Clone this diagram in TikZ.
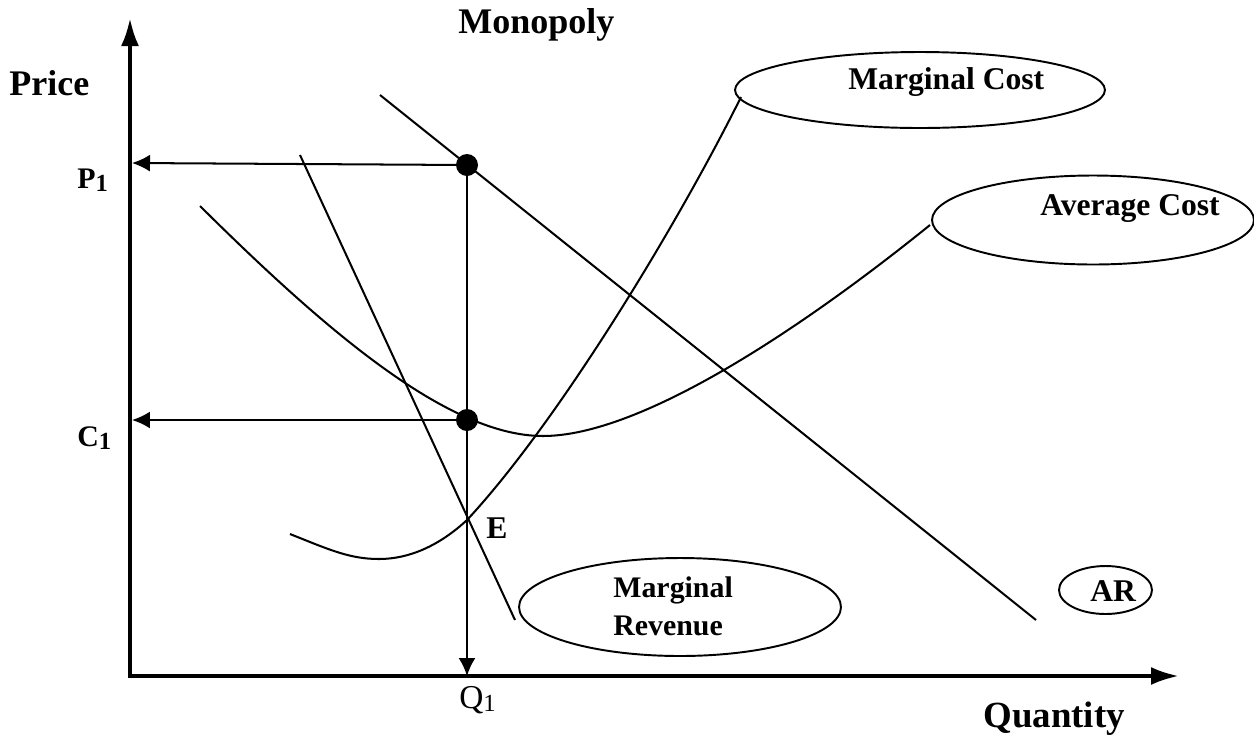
\documentclass[tikz,border=0pt]{standalone}
\usepackage{fontspec}
\setmainfont{Liberation Serif}
\usetikzlibrary{arrows.meta,shapes.geometric}
\newcommand{\mysub}[2]{#1\raisebox{-0.25ex}{\fontsize{14}{14}\selectfont #2}}
\begin{document}
\begin{tikzpicture}[x=0.02cm,y=-0.02cm,
  thin line/.style={line width=1.15pt},
  axis line/.style={line width=2.3pt},
  lbl/.style={inner sep=0pt,anchor=base west,font=\bfseries\fontsize{17}{20}\selectfont},
  oval/.style={ellipse,draw,line width=1.1pt,inner sep=0pt},
  dotmark/.style={circle,fill=black,inner sep=0pt,minimum size=0.44cm},
  smallhead/.style={-{Latex[length=0.36cm,width=0.34cm]}},
  bighead/.style={-{Latex[length=0.56cm,width=0.36cm]}}]
\useasboundingbox (0,0) rectangle (1254,735);
% axes
\coordinate (O) at (130,676);
\coordinate (ytip) at (130,18);
\coordinate (xtip) at (1179,676);
\draw[axis line,bighead] (O) -- (ytip);
\draw[axis line,bighead] (128,676) -- (xtip);
% points
\coordinate (P1ax) at (132,163);
\coordinate (C1ax) at (132,420);
\coordinate (Q1ax) at (467,676);
\node[dotmark] (Ptop) at (467,165) {};
\node[dotmark] (Cdot) at (467,420) {};
\draw[thin line,smallhead] (Ptop.center) -- (P1ax);
\draw[thin line,smallhead] (Cdot.center) -- (C1ax);
\draw[thin line,smallhead] (Ptop.center) -- (Q1ax);
% ellipses
\node[oval,minimum width=7.4cm,minimum height=1.52cm] (mcell) at (920,90) {};
\node[oval,minimum width=6.44cm,minimum height=1.78cm] (acell) at (1093,220) {};
\node[oval,minimum width=6.44cm,minimum height=1.96cm] (mrell) at (680,607) {};
\node[oval,minimum width=1.86cm,minimum height=0.96cm] (arell) at (1105.5,590) {};
% AR line
\coordinate (ar1) at (380,95);
\coordinate (ar2) at (1036,620);
\draw[thin line] (ar1) -- (ar2);
% MR line
\coordinate (mr1) at (300,155);
\coordinate (mr2) at (515,620);
\draw[thin line] (mr1) -- (mr2);
% MC curve
\coordinate (mc0) at (290,534);
\coordinate (mcmin) at (379,559);
\coordinate (mcE) at (467,520);
\coordinate (mcend) at (741,97);
\draw[thin line] (mc0) .. controls (330,550) and (350,559) .. (mcmin)
  .. controls (410,559) and (440,545) .. (mcE)
  .. controls (560,420) and (680,220) .. (mcend);
% AC curve
\coordinate (ac0) at (200,206);
\coordinate (acmin) at (543,436);
\coordinate (acend) at (930,225);
\draw[thin line] (ac0) .. controls (330,335) and (450,436) .. (acmin)
  .. controls (640,436) and (800,330) .. (acend);
% texts
\node[lbl,font=\bfseries\fontsize{20.5}{24}\selectfont] (mono) at (458,33) {Monopoly};
\node[lbl,font=\bfseries\fontsize{20.5}{24}\selectfont] (price) at (9,95) {Price};
\node[lbl] (p1) at (77,188) {\mysub{P}{1}};
\node[lbl] (c1) at (77,446) {\mysub{C}{1}};
\node[lbl,font=\bfseries\fontsize{18}{20}\selectfont] (e) at (486,538) {E};
\node[lbl,font=\fontsize{19}{22}\selectfont] (q1) at (459,708) {\mysub{Q}{1}};
\node[lbl,font=\bfseries\fontsize{21}{24}\selectfont] (qty) at (983,727) {Quantity};
\node[lbl,font=\bfseries\fontsize{18}{20}\selectfont] (mctxt) at (848,89) {Marginal Cost};
\node[lbl,font=\bfseries\fontsize{18}{20}\selectfont] (actxt) at (1040,215) {Average Cost};
\node[lbl] (mrtxt1) at (613,597) {Marginal};
\node[lbl] (mrtxt2) at (613,635) {Revenue};
\node[lbl,font=\bfseries\fontsize{18}{20}\selectfont] (artxt) at (1090,601) {AR};
\end{tikzpicture}
\end{document}
